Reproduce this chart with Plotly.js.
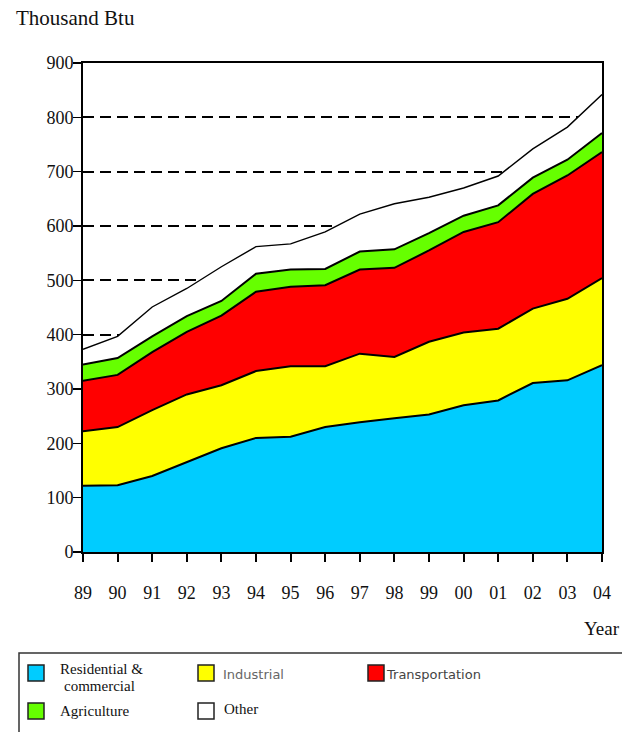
<!DOCTYPE html>
<html>
<head>
<meta charset="utf-8">
<script src="https://cdn.plot.ly/plotly-3.0.1.min.js"></script>
<style>html,body{margin:0;padding:0;background:#fff;}#chart{width:622px;height:732px;}</style>
</head>
<body>
<div id="chart"></div>
<script>
// ---- data (thousand Btu) ----
const years = ["89","90","91","92","93","94","95","96","97","98","99","00","01","02","03","04"];
const residential = [122,123,140,166,191,210,212,230,239,246,253,270,279,311,316,344];
const industrial  = [100,107,121,124,116,123,130,112,126,113,134,134,132,137,150,160];
const transport   = [93,96,107,115,128,146,146,149,155,164,168,185,196,211,227,232];
const agriculture = [30,31,29,29,27,33,32,30,33,34,32,30,31,30,29,35];
const other       = [28,40,54,51,63,50,47,68,69,84,66,51,54,53,60,71];
const seriesNames = ["Residential &<br>commercial","Industrial","Transportation","Agriculture","Other"];
const yTicks = [0,100,200,300,400,500,600,700,800,900];

const colors = ["#00CCFF","#FFFF00","#FF0000","#66FF00","#FFFFFF"];
const values = [residential, industrial, transport, agriculture, other];

const traces = values.map((v,i)=>({
  x: years, y: v, type:"scatter", mode:"lines", stackgroup:"one",
  name: seriesNames[i],
  fillcolor: colors[i],
  line:{color:"#000", width: i===4 ? 1.4 : 2, shape:"linear"},
  hoverinfo:"skip", showlegend:false
}));

const serif = "Liberation Serif, Times New Roman, serif";
const sans = "DejaVu Sans, sans-serif";

// plot area in pixels
const L=83, R=602, T=63, B=552;
function px(x){return (x-L)/(R-L);}
function py(y){return (B-y)/(B-T);}

// manual legend
const shapes = [];
const annotations = [];
const leg = [
  {sx:28, sy:665, tx:58, ty:669, text:"Residential &", font:serif, size:15, color:"#111", c:0},
  {sx:198, sy:665, tx:221, ty:674, text:"Industrial", font:sans, size:13, color:"#666", c:1},
  {sx:368, sy:665, tx:384, ty:674, text:"Transportation", font:sans, size:13, color:"#444", c:2},
  {sx:28, sy:703, tx:58, ty:711, text:"Agriculture", font:serif, size:15, color:"#111", c:3},
  {sx:198, sy:703, tx:222, ty:709, text:"Other", font:serif, size:15, color:"#111", c:4}
];
shapes.push({type:"rect", xref:"paper", yref:"paper", x0:px(19), x1:px(640), y0:py(653), y1:py(740),
  line:{color:"#333", width:1.5}, fillcolor:"rgba(0,0,0,0)", layer:"above"});
leg.forEach(l=>{
  shapes.push({type:"rect", xref:"paper", yref:"paper", x0:px(l.sx), x1:px(l.sx+16), y0:py(l.sy), y1:py(l.sy+16),
    line:{color:"#222", width:1.5}, fillcolor:colors[l.c], layer:"above"});
  annotations.push({xref:"paper", yref:"paper", x:px(l.tx), y:py(l.ty), xanchor:"left", yanchor:"middle",
    text:l.text, showarrow:false, font:{family:l.font, size:l.size, color:l.color}});
});
annotations.push({xref:"paper", yref:"paper", x:px(62), y:py(686), xanchor:"left", yanchor:"middle",
  text:"commercial", showarrow:false, font:{family:serif, size:15, color:"#111"}});
annotations.push({xref:"paper", yref:"paper", x:px(14), y:py(18), xanchor:"left", yanchor:"middle",
  text:"Thousand Btu", showarrow:false, font:{family:serif, size:21, color:"#111"}});
annotations.push({xref:"paper", yref:"paper", x:px(622), y:py(628), xanchor:"right", yanchor:"middle",
  text:"Year", showarrow:false, font:{family:serif, size:19, color:"#111"}});

const layout = {
  width:622, height:732,
  margin:{l:L, r:622-R, t:T, b:732-B},
  paper_bgcolor:"#fff", plot_bgcolor:"#fff",
  showlegend:false,
  xaxis:{
    type:"category", range:[0,15], showgrid:false, zeroline:false,
    showline:true, linecolor:"#000", linewidth:2, mirror:true,
    ticks:"outside", ticklen:8, tickwidth:2, tickcolor:"#000",
    tickfont:{family:serif, size:18, color:"#111"}, ticklabelstandoff:15
  },
  yaxis:{
    range:[0,900], tickvals:yTicks, ticktext:yTicks.map(String),
    showgrid:true, gridcolor:"#000", gridwidth:2, griddash:"11px,6px",
    zeroline:false, showline:true, linecolor:"#000", linewidth:2, mirror:true,
    ticks:"outside", ticklen:8, tickwidth:1.5, tickcolor:"#000",
    tickfont:{family:serif, size:18, color:"#111"}, ticklabelstandoff:-4
  },
  shapes:shapes, annotations:annotations
};
Plotly.newPlot("chart", traces, layout, {staticPlot:true, displayModeBar:false});
</script>
</body>
</html>
